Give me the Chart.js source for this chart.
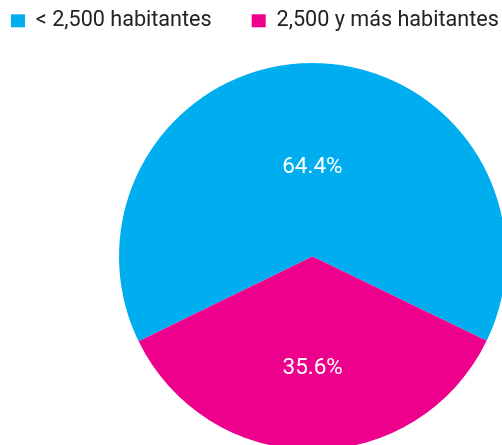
<!DOCTYPE html>
<html lang="es">
<head>
    <meta charset="UTF-8">
    <title>Población por tamaño de localidad</title>
    <script src="https://cdn.jsdelivr.net/npm/chart.js"></script>
    <style>
        html, body { margin: 0; padding: 0; width: 502px; height: 445px; overflow: hidden; background: #fff; }
        /* canvas is bigger than the window on purpose: the pie runs off the bottom/right edge */
        #wrap { position: absolute; left: -29px; top: -30px; width: 683px; height: 480px; }
    </style>
</head>
<body>
    <div id="wrap"><canvas id="pieChart"></canvas></div>

    <script>
        // data
        const categories = ['< 2,500 habitantes', '2,500 y más habitantes'];
        const shares = [64.4, 35.6];

        const sliceColors = ['#00AEEF', '#EC008C'];

        // extra gap between legend and pie
        const legendSpacer = {
            id: 'legendSpacer',
            beforeInit(chart) {
                const origFit = chart.legend.fit;
                chart.legend.fit = function fit() {
                    origFit.bind(chart.legend)();
                    this.height += 21.4;
                };
            }
        };

        // percentage labels inside the slices
        const sliceLabels = {
            id: 'sliceLabels',
            afterDatasetsDraw(chart, args, opts) {
                const ctx = chart.ctx;
                const meta = chart.getDatasetMeta(0);
                ctx.save();
                ctx.font = opts.font;
                ctx.fillStyle = opts.color;
                ctx.textAlign = 'center';
                ctx.textBaseline = 'middle';
                meta.data.forEach((arc, i) => {
                    const p = arc.getProps(['x', 'y', 'startAngle', 'endAngle', 'outerRadius'], true);
                    const mid = (p.startAngle + p.endAngle) / 2;
                    const r = p.outerRadius * opts.radius[i];
                    const value = chart.data.datasets[0].data[i];
                    ctx.fillText(value.toFixed(1) + '%', p.x + Math.cos(mid) * r, p.y + Math.sin(mid) * r);
                });
                ctx.restore();
            }
        };

        new Chart(document.getElementById('pieChart'), {
            type: 'pie',
            data: {
                labels: categories,
                datasets: [{
                    data: shares,
                    backgroundColor: sliceColors,
                    borderWidth: 0,
                    hoverBorderWidth: 0,
                    hoverOffset: 0
                }]
            },
            options: {
                responsive: true,
                maintainAspectRatio: false,
                animation: false,
                rotation: 244,
                layout: { padding: 0 },
                plugins: {
                    legend: {
                        position: 'top',
                        align: 'start',
                        labels: {
                            boxWidth: 14,
                            boxHeight: 13,
                            padding: 40,
                            color: '#222',
                            font: { family: 'Roboto, sans-serif', size: 21.6 }
                        }
                    },
                    tooltip: { enabled: false },
                    sliceLabels: {
                        font: '22.5px Roboto, sans-serif',
                        color: '#fff',
                        radius: [0.46, 0.58]
                    }
                }
            },
            plugins: [legendSpacer, sliceLabels]
        });
    </script>
</body>
</html>
